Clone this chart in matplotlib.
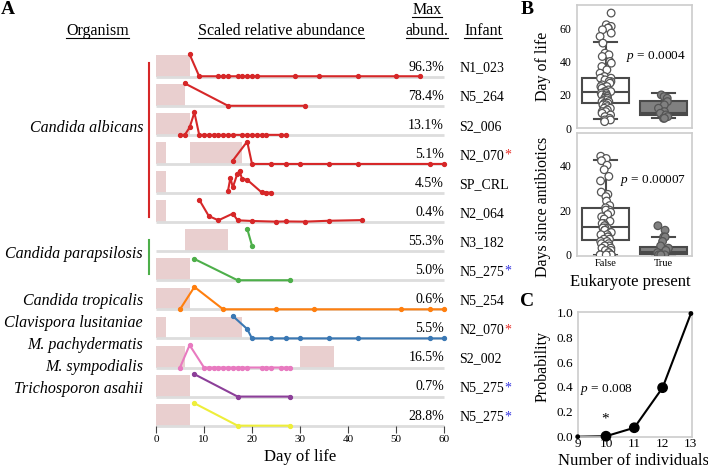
import numpy as np
import matplotlib.pyplot as plt
from matplotlib.patches import Rectangle
from matplotlib.lines import Line2D
import seaborn as sns

plt.rcParams['font.family'] = ['Liberation Serif', 'DejaVu Serif']
plt.rcParams['mathtext.fontset'] = 'custom'
plt.rcParams['mathtext.rm'] = 'Liberation Serif'
plt.rcParams['mathtext.it'] = 'Liberation Serif:italic'

# ---- panel A data ----
infants = ['N1_023', 'N5_264', 'S2_006', 'N2_070', 'SP_CRL', 'N2_064', 'N3_182',
           'N5_275', 'N5_254', 'N2_070', 'S2_002', 'N5_275', 'N5_275']
max_abund = ['96.3%', '78.4%', '13.1%', '5.1%', '4.5%', '0.4%', '55.3%',
             '5.0%', '0.6%', '5.5%', '16.5%', '0.7%', '28.8%']
star_marks = [None, None, None, 'red', None, None, None, 'blue', None, 'red', None, 'blue', 'blue']
row_days = [
    [7, 9, 13, 14, 15, 17, 18, 19, 20, 21, 29, 34, 42, 50, 55],
    [6, 15, 31],
    [5, 6, 7, 8, 9, 10, 11, 12, 13, 14, 15, 16, 18, 19, 20, 21, 22, 23, 26, 27],
    [16, 19, 20, 24, 27, 30, 36, 42, 57, 60],
    [15, 15.5, 16, 16.9, 17.4, 17.9, 19, 22, 23, 24],
    [9, 11, 13, 16, 17, 20, 25, 27, 31, 36, 43],
    [19, 20],
    [8, 17, 28],
    [5, 8, 14, 25, 33, 51, 57, 60],
    [16, 19, 20, 24, 27, 30, 36, 42, 57, 60],
    [5, 7, 10, 11, 12, 13, 14, 15, 16, 17, 18, 19, 22, 23, 24, 26, 27, 28],
    [8, 17, 28],
    [8, 17, 28],
]
row_values = [
    [1.0, 0.02, 0.02, 0.02, 0.02, 0.02, 0.02, 0.02, 0.02, 0.02, 0.02, 0.02, 0.02, 0.02, 0.02],
    [1.0, 0.0, 0.0],
    [0.0, 0.0, 0.33, 1.0] + [0.0] * 16,
    [0.15, 1.0, 0.0, 0.0, 0.0, 0.0, 0.0, 0.0, 0.0, 0.0],
    [0.1, 0.68, 0.25, 0.83, 1.0, 0.64, 0.59, 0.03, 0.02, 0.02],
    [1.0, 0.27, 0.08, 0.38, 0.08, 0.05, 0.02, 0.03, 0.02, 0.06, 0.09],
    [1.0, 0.25],
    [0.95, 0.0, 0.0],
    [0.0, 1.0, 0.0, 0.0, 0.0, 0.0, 0.0, 0.0],
    [1.0, 0.42, 0.0, 0.0, 0.0, 0.0, 0.0, 0.0, 0.0, 0.0],
    [0.0, 1.0] + [0.0] * 16,
    [1.0, 0.0, 0.0],
    [1.0, 0.0, 0.0],
]
antibiotic_periods = [
    [(0, 7)], [(0, 6)], [(0, 7)], [(0, 2), (7, 18)], [(0, 2)], [(0, 2)], [(6, 15)],
    [(0, 7)], [(0, 7)], [(0, 2), (7, 18)], [(0, 6), (30, 37)], [(0, 7)], [(0, 7)],
]
row_colors = ['#d62728'] * 6 + ['#4daf4a'] * 2 + ['#ff7f0e', '#3a78b4', '#e87ac0', '#8c3f99', '#eeee3a']

organisms = ['Candida albicans', 'Candida parapsilosis', 'Candida tropicalis',
             'Clavispora lusitaniae', 'M. pachydermatis', 'M. sympodialis', 'Trichosporon asahii']
organism_ypix = [128, 254, 301, 323, 345, 367, 389]

# ---- panel B data ----
dol_false = [69, 62, 61, 60, 60, 59, 57, 55, 51, 45, 44, 43, 40, 39, 37, 35, 33, 31, 30, 30,
             29, 28, 28, 27, 26, 25, 25, 24, 23, 22, 22, 22, 21, 21, 20, 20, 19, 19, 18, 18,
             17, 17, 16, 16, 15, 15, 15, 14, 14, 13, 12, 12, 11, 10, 10, 9, 8, 7, 6, 5, 5, 4]
dol_true = [20, 19, 18, 16, 14, 12, 10, 9, 8, 7, 6, 6]
abx_false = [44, 43, 42, 40, 38, 35, 33, 28, 27, 26, 24, 22, 21, 20, 20, 19, 18, 17, 16, 15,
             14, 14, 13, 13, 12, 12, 12, 11, 11, 10, 10, 9, 9, 8, 8, 7, 7, 6, 6, 5, 5, 4, 4,
             3, 3, 2, 2, 1, 1, 0, 0, 0, 0, 0]
abx_true = [13, 11, 8, 8, 6, 4, 3, 2, 1, 0, 0, 0]
# box statistics: q1, median, q3, lower whisker, upper whisker
dol_box = {'False': (15, 21.6, 30.4, 5.4, 51.4), 'True': (8, 9, 16.6, 6, 21)}
abx_box = {'False': (6.7, 12.3, 21, 0, 42.2), 'True': (0.4, 1.5, 3.7, 0, 7.9)}

# ---- panel C data ----
n_individuals = [9, 10, 11, 12, 13]
probability = [0.0, 0.004, 0.072, 0.394, 0.99]

W, H = 708, 468
PINK = '#e9cfcf'


def fx(x):
    return x / W


def fy(y):
    return 1 - y / H


fig = plt.figure(figsize=(7.08, 4.68), dpi=100)

# ================= Panel A =================
row_px = 29.08
top_px = 76.7 - 0.95 * row_px
bot_px = 76.7 + 12 * row_px
axA = fig.add_axes([fx(156), fy(bot_px), 288 / W, (bot_px - top_px) / H])
axA.set_xlim(0, 60)
axA.set_ylim(-12, 0.95)
for s in axA.spines.values():
    s.set_visible(False)
axA.set_yticks([])
axA.set_xticks(range(0, 61, 10))
axA.tick_params(axis='x', length=5, width=0.8, color='#444444', labelsize=8, pad=2)
axA.set_xlabel('Day of life', fontsize=12, labelpad=3)

scale = 0.77
for i in range(len(infants)):
    base = -i
    axA.plot([0, 60], [base, base], color='#dddddd', lw=2, zorder=1, clip_on=False,
             solid_capstyle='butt')
    for a, b in antibiotic_periods[i]:
        axA.add_patch(Rectangle((a, base), b - a, 0.75, fc=PINK, ec='none', zorder=0.5,
                                clip_on=False))
    axA.plot(row_days[i], base + scale * np.array(row_values[i]), '-o', color=row_colors[i],
             lw=1.5, ms=2.8, zorder=3, clip_on=False)
    axA.text(60, base + 0.33, max_abund[i], ha='right', va='center', fontsize=10)
    t = axA.text(63.2, base + 0.3, infants[i], ha='left', va='center', fontsize=10)
    if star_marks[i]:
        axA.annotate('*', xy=(1, 0.5), xycoords=t, ha='left', va='center', fontsize=10,
                     color='#e8302a' if star_marks[i] == 'red' else '#3434e0')

for name, y in zip(organisms, organism_ypix):
    fig.text(fx(143), fy(y), name, ha='right', va='center', style='italic', fontsize=11.5)
fig.add_artist(Line2D([fx(149)] * 2, [fy(63), fy(217)], color='#d62728', lw=1.5))
fig.add_artist(Line2D([fx(149)] * 2, [fy(240), fy(274)], color='#4daf4a', lw=1.5))

headers = [
    fig.text(fx(97.5), fy(30.7), 'Organism', ha='center', va='center', fontsize=11.5),
    fig.text(fx(281), fy(30.7), 'Scaled relative abundance', ha='center', va='center', fontsize=11.5),
    fig.text(fx(427), fy(10), 'Max', ha='center', va='center', fontsize=11.5),
    fig.text(fx(427), fy(30.7), 'abund.', ha='center', va='center', fontsize=11.5),
    fig.text(fx(483), fy(30.7), 'Infant', ha='center', va='center', fontsize=11.5),
]

# ================= Panel B =================
axB1 = fig.add_axes([fx(577), fy(128.3), 115 / W, (128.3 - 4.7) / H])
axB2 = fig.add_axes([fx(577), fy(256), 115 / W, (256 - 132.7) / H])

np.random.seed(4)
for ax, f_vals, t_vals, box, ylim, yt in [
        (axB1, dol_false, dol_true, dol_box, (0, 74), [0, 20, 40, 60]),
        (axB2, abx_false, abx_true, abx_box, (-0.5, 54.5), [0, 20, 40])]:
    stats = []
    for key in ['False', 'True']:
        q1, med, q3, lo, hi = box[key]
        stats.append(dict(q1=q1, med=med, q3=q3, whislo=lo, whishi=hi, fliers=[]))
    bp = ax.bxp(stats, positions=[0, 1], widths=0.82, patch_artist=True, showfliers=False,
                capwidths=0.4,
                boxprops=dict(lw=1.5, ec='#4a4a4a'),
                medianprops=dict(color='#4a4a4a', lw=1.5),
                whiskerprops=dict(color='#4a4a4a', lw=1.5),
                capprops=dict(color='#4a4a4a', lw=1.5))
    bp['boxes'][0].set_facecolor('white')
    bp['boxes'][1].set_facecolor('#808080')
    groups = ['False'] * len(f_vals) + ['True'] * len(t_vals)
    sns.stripplot(x=groups, y=f_vals + t_vals, hue=groups, order=['False', 'True'],
                  palette={'False': 'white', 'True': '#808080'}, jitter=0.1, size=5.5,
                  linewidth=0.9, edgecolor='#555555', legend=False, ax=ax, zorder=3)
    ax.set_xlim(-0.5, 1.5)
    ax.set_ylim(*ylim)
    ax.set_yticks(yt)
    ax.set_ylabel('')
    for s in ax.spines.values():
        s.set_color('#cccccc')
        s.set_linewidth(1.2)
    ax.tick_params(length=0, labelsize=8.5, pad=4)

axB1.set_xticks([])
axB2.set_xticks([0, 1])
axB2.set_xticklabels(['False', 'True'], fontsize=7.5)
axB2.tick_params(axis='x', pad=2)

fig.text(fx(542.7), fy(66.7), 'Day of life', rotation=90, ha='center', va='center', fontsize=11.5)
fig.text(fx(542.7), fy(207), 'Days since antibiotics', rotation=90, ha='center', va='center',
         fontsize=11.5)
fig.text(fx(630), fy(281.7), 'Eukaryote present', ha='center', va='center', fontsize=12)
fig.text(fx(686), fy(56.7), '$p$ = 0.0004', ha='right', va='center', fontsize=9.5)
fig.text(fx(686), fy(181), '$p$ = 0.00007', ha='right', va='center', fontsize=9.5)

# ================= Panel C =================
axC = fig.add_axes([fx(577.7), fy(436.7), (692.3 - 577.7) / W, (436.7 - 312.3) / H])
marker_sizes = [6, 45, 45, 45, 6]
axC.plot(n_individuals, probability, color='black', lw=1.5, clip_on=False)
axC.scatter(n_individuals, probability, s=marker_sizes, color='black', zorder=3, clip_on=False)
axC.set_xlim(9, 13.05)
axC.set_ylim(0, 1.0)
axC.set_xticks(n_individuals)
axC.set_yticks([0, 0.2, 0.4, 0.6, 0.8, 1.0])
axC.set_yticklabels(['0.0', '0.2', '0.4', '0.6', '0.8', '1.0'])
axC.tick_params(length=0, labelsize=9.5, pad=3)
axC.tick_params(axis='x', pad=1)
for s in axC.spines.values():
    s.set_color('#cccccc')
    s.set_linewidth(1.2)
fig.text(fx(542.7), fy(366.5), 'Probability', rotation=90, ha='center', va='center', fontsize=11.5)
fig.text(fx(634), fy(461), 'Number of individuals', ha='center', va='center', fontsize=12)
fig.text(fx(580), fy(389.3), '$p$ = 0.008', ha='left', va='center', fontsize=9.5)
fig.text(fx(605), fy(419), '*', ha='center', va='center', fontsize=11)

# panel letters
for letter, x, y in [('A', 8, 10), ('B', 527, 9), ('C', 527, 301)]:
    fig.text(fx(x), fy(y), letter, ha='center', va='center', fontsize=14, fontweight='bold')

# underline headers
fig.canvas.draw()
renderer = fig.canvas.get_renderer()
for t in headers:
    bb = t.get_window_extent(renderer)
    yy = (bb.y0 + 1) / fig.bbox.height
    fig.add_artist(Line2D([bb.x0 / fig.bbox.width, bb.x1 / fig.bbox.width], [yy, yy],
                          color='black', lw=0.8))

fig.savefig('out.png', dpi=100)
